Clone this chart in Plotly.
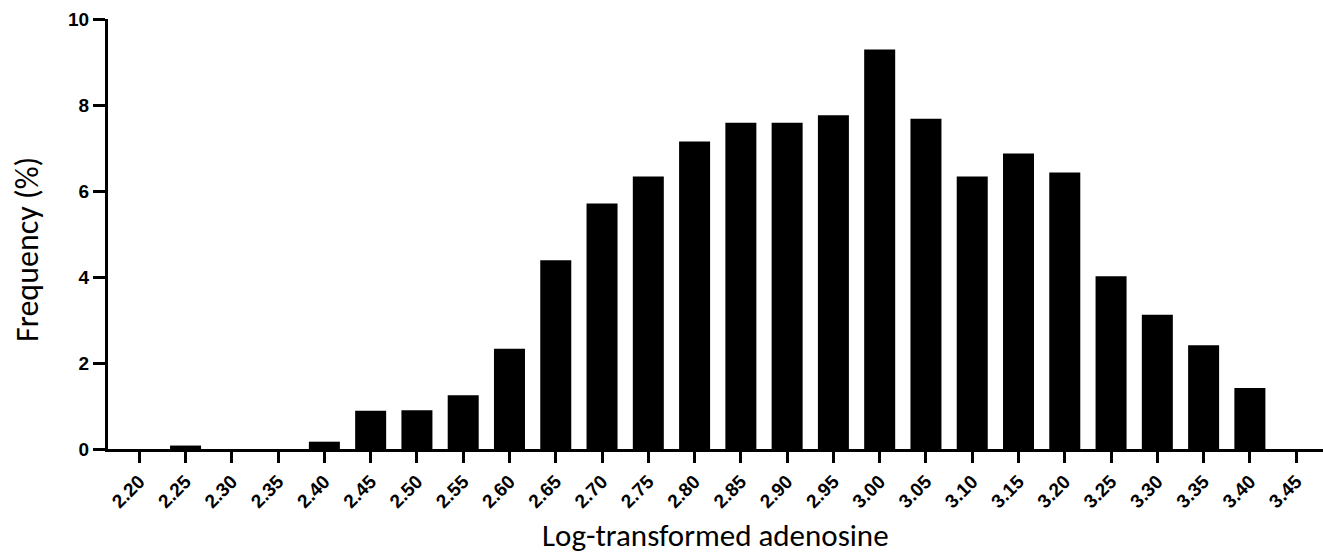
import plotly.graph_objects as go

categories = ["2.20", "2.25", "2.30", "2.35", "2.40", "2.45", "2.50", "2.55", "2.60",
              "2.65", "2.70", "2.75", "2.80", "2.85", "2.90", "2.95", "3.00", "3.05",
              "3.10", "3.15", "3.20", "3.25", "3.30", "3.35", "3.40", "3.45"]
frequency = [0, 0.08, 0, 0, 0.17, 0.89, 0.90, 1.25, 2.33,
             4.39, 5.71, 6.34, 7.15, 7.59, 7.59, 7.76, 9.29, 7.68,
             6.34, 6.87, 6.43, 4.02, 3.12, 2.41, 1.42, 0]
y_ticks = [0, 2, 4, 6, 8, 10]

fig = go.Figure()
fig.add_trace(go.Bar(
    x=categories, y=frequency,
    marker=dict(color="black", line=dict(width=0)),
    hoverinfo="x+y",
))

fig.update_layout(
    width=1323, height=556,
    margin=dict(l=108, r=0, t=19, b=107),
    plot_bgcolor="white", paper_bgcolor="white",
    bargap=0.33,
    showlegend=False,
    font=dict(family="Liberation Sans, Arial", color="black"),
)
fig.update_xaxes(
    type="category",
    range=[-0.676, 25.58],
    showline=True, linecolor="black", linewidth=3,
    ticks="outside", ticklen=11, tickwidth=3, tickcolor="black",
    tickangle=-45,
    tickfont=dict(family="Liberation Sans, Arial", size=19, color="black", weight="bold"),
    showgrid=False, zeroline=False,
)
fig.update_yaxes(
    range=[0, 10],
    tickvals=y_ticks,
    showline=True, linecolor="black", linewidth=3,
    ticks="outside", ticklen=12, tickwidth=3, tickcolor="black",
    tickfont=dict(family="Liberation Sans, Arial", size=19, color="black", weight="bold"),
    showgrid=False, zeroline=False,
)
fig.add_annotation(
    text="Frequency (%)", xref="paper", yref="paper",
    x=-108/1215 + 27/1215, y=(449-250)/430, xanchor="center", yanchor="middle",
    textangle=-90, showarrow=False,
    font=dict(family="Carlito, Lato, Open Sans", size=32, color="black"),
)
fig.add_annotation(
    text="Log-transformed adenosine", xref="paper", yref="paper",
    x=(715-108)/1215, y=-(535-449)/430, xanchor="center", yanchor="middle",
    showarrow=False,
    font=dict(family="Carlito, Lato, Open Sans", size=31, color="black"),
)

fig.write_html("out.html")
